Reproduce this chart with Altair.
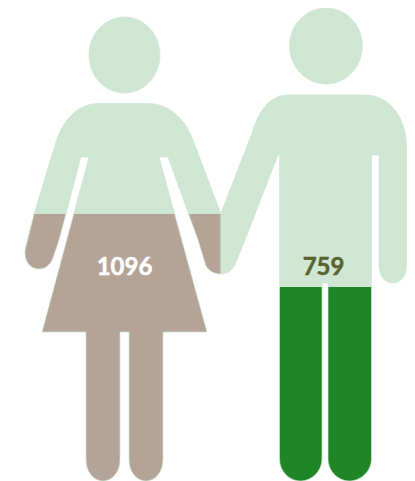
import re
import altair as alt
import pandas as pd

# Data
figures = ["Women", "Men"]
counts = [1096, 759]
filled_share = [0.575, 0.41]

PALE = "#CFE6D2"
DARK = ["#B4A498", "#1F8527"]
TEXT = ["#FFFFFF", "#576430"]
UNIT = 100.0  # px per symbol unit


def ellipse(cx, cy, rx, ry):
    k = 0.5523
    return (
        f"M {cx-rx} {cy} C {cx-rx} {cy-k*ry} {cx-k*rx} {cy-ry} {cx} {cy-ry} "
        f"C {cx+k*rx} {cy-ry} {cx+rx} {cy-k*ry} {cx+rx} {cy} "
        f"C {cx+rx} {cy+k*ry} {cx+k*rx} {cy+ry} {cx} {cy+ry} "
        f"C {cx-k*rx} {cy+ry} {cx-rx} {cy+k*ry} {cx-rx} {cy} Z "
    )


def glyph(path):
    return re.sub(r"-?\d+\.?\d*", lambda m: f"{float(m.group())/UNIT:.4f}", path)


WOMAN = ellipse(124.5, 55, 35.5, 38) + (
    "M 98 103.5 L 148 103.5 C 168 103.5 185 118 193 140 L 221 214 L 221 274 "
    "C 213 274 207 270 205 263 L 198 240 L 168 157 L 159 157 L 207 332 L 163 332 "
    "L 163 460 C 163 472 155 481 146 481 C 137 481 129 472 129 460 L 129 332 L 120 332 "
    "L 120 460 C 120 472 112 481 103 481 C 94 481 86 472 86 460 L 86 332 L 42 332 "
    "L 89 157 L 81 157 L 66 214 L 59 240 L 53 258 C 50 266 44 269 39 269 "
    "C 30 269 24 261 25 250 L 34 214 L 55 145 C 62 120 78 103.5 98 103.5 Z"
)
MAN = ellipse(326, 46, 36.5, 38) + (
    "M 288 95 L 365 95 C 390 95 406.6 118 406.6 148 L 406.6 265 C 406.6 276 401 283 393 283 "
    "C 385 283 379 276 379 265 L 379 155 L 371.5 155 L 371.5 459 C 371.5 471 361 481 349.5 481 "
    "C 338 481 328 471 328 459 L 328 283 L 322 283 L 322 459 C 322 471 312 481 300.5 481 "
    "C 289 481 279.5 471 279.5 459 L 279.5 155 L 278 155 L 245 240 L 236 262 "
    "C 233 270 228 274 221 274 L 221 213 L 252 133 C 259 110 270 95 288 95 Z"
)
SHAPES = [WOMAN, MAN]
LABEL_X = [116.5, 315.5]
LABEL_Y = 260

df = pd.DataFrame({"figure": figures, "count": counts, "share": filled_share})


def fill(share, dark):
    cut = round(1 - share, 4)
    return {
        "gradient": "linear", "x1": 0, "y1": 0, "x2": 0, "y2": 1,
        "stops": [
            {"offset": 0, "color": PALE},
            {"offset": cut, "color": PALE},
            {"offset": cut, "color": dark},
            {"offset": 1, "color": dark},
        ],
    }


layers = []
for i, name in enumerate(figures):
    row = df[df["figure"] == name]
    layers.append(
        alt.Chart(row).mark_point(
            shape=glyph(SHAPES[i]),
            size=(2 * UNIT) ** 2,
            filled=True,
            fill=fill(filled_share[i], DARK[i]),
            stroke=PALE,
            strokeWidth=0.7,
            opacity=1,
        ).encode(x=alt.value(-8), y=alt.value(-8))
    )
    layers.append(
        alt.Chart(row).mark_text(
            font="Lato", fontWeight="bold", fontSize=24, color=TEXT[i],
            stroke=TEXT[i], strokeWidth=0.5,
            align="center", baseline="middle",
        ).encode(x=alt.value(LABEL_X[i]), y=alt.value(LABEL_Y), text="count:N")
    )

chart = alt.layer(*layers).properties(
    width=399, height=473, padding=0, background="white",
    autosize=alt.AutoSizeParams(type="none"),
).configure_view(stroke=None)

chart.save("out.html", embed_options={"renderer": "svg", "actions": False})
